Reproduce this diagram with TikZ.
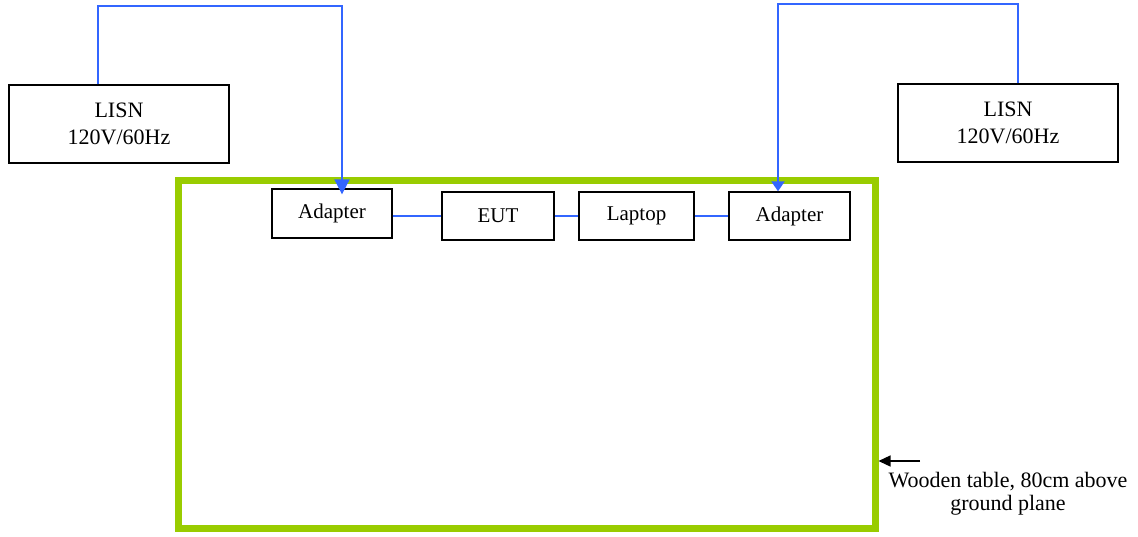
\documentclass[tikz,border=0pt]{standalone}
\usepackage{fontspec}
\setmainfont{Liberation Serif}
\usetikzlibrary{arrows.meta}
\definecolor{wire}{RGB}{51,102,255}
\definecolor{tablegreen}{RGB}{153,204,0}
\tikzset{
  unitbox/.style={draw=black, line width=1.3pt, inner sep=0pt, align=center},
  lisnbox/.style={unitbox, minimum width=220pt, minimum height=78pt,
    font=\fontsize{22}{27}\selectfont},
  smallbox/.style={unitbox, minimum height=48pt, font=\fontsize{21}{25}\selectfont},
  wire/.style={draw=wire, line width=2pt},
}
\begin{document}
\begin{tikzpicture}[x=1pt,y=-1pt]
\useasboundingbox (0,0) rectangle (1138,536);
% table
\node[draw=tablegreen, line width=7pt, minimum width=697pt, minimum height=348pt, inner sep=0pt] (table) at (526.5,354) {};
% LISNs
\node[lisnbox] (lisnL) at (119,124) {LISN\\120V/60Hz};
\node[lisnbox] (lisnR) at (1008,123) {LISN\\120V/60Hz};
% units
\node[smallbox, minimum width=120pt, minimum height=49pt] (adL) at (332,213.5) {Adapter};
\node[smallbox, minimum width=112pt] (eut) at (498,216) {EUT};
\node[smallbox, minimum width=115pt] (lap) at (636.5,216) {Laptop};
\node[smallbox, minimum width=121pt] (adR) at (789.5,216) {Adapter};
% wires between units
\draw[wire] (adL.east |- eut.west) -- (eut.west);
\draw[wire] (eut.east) -- (lap.west);
\draw[wire] (lap.east) -- (adR.west);
% power wires
\coordinate (t1) at (98,6);
\coordinate (t2) at (342,6);
\draw[wire, -{Triangle[width=15pt,length=15pt]}] (lisnL.north -| t1) -- (t1) -- (t2) -- ([yshift=-6pt]t2 |- adL.north);
\coordinate (t3) at (1018,4);
\coordinate (t4) at (778,4);
\draw[wire, -{Triangle[width=13pt,length=10pt]}] (lisnR.north -| t3) -- (t3) -- (t4) -- (t4 |- adR.north);
% label
\node[align=center, inner sep=0pt, font=\fontsize{22}{23}\selectfont] (lbl) at (1008,494) {Wooden table, 80cm above\\ground plane};
\coordinate (atail) at (920,461);
\draw[black, line width=1.3pt, -{Triangle[width=11pt,length=12pt]}] (atail) -- (atail -| table.east);
\end{tikzpicture}
\end{document}
